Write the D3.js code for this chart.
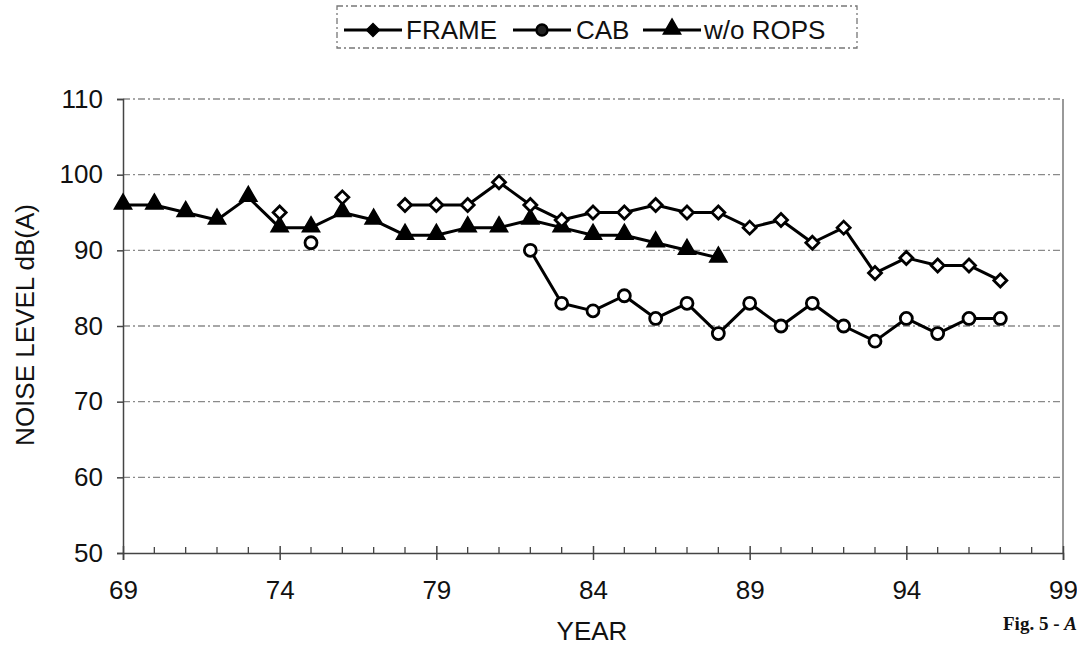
<!DOCTYPE html>
<html>
<head>
<meta charset="utf-8">
<script src="https://cdn.jsdelivr.net/npm/d3@7"></script>
<style>
  html, body { margin: 0; padding: 0; background: #fff; overflow: hidden; }
  svg { display: block; }
  text { font-family: "Liberation Sans", Arial, Helvetica, sans-serif; fill: #111; }
</style>
</head>
<body>
<svg id="chart" width="1077" height="658"></svg>
<script>
// ---- data ----
const years    = [69,70,71,72,73,74,75,76,77,78,79,80,81,82,83,84,85,86,87,88,89,90,91,92,93,94,95,96,97];
const frame    = [null,null,null,null,null,95,null,97,null,96,96,96,99,96,94,95,95,96,95,95,93,94,91,93,87,89,88,88,86];
const cab      = [null,null,null,null,null,null,91,null,null,null,null,null,null,90,83,82,84,81,83,79,83,80,83,80,78,81,79,81,81];
const woRops   = [96,96,95,94,97,93,93,95,94,92,92,93,93,94,93,92,92,91,90,89,null,null,null,null,null,null,null,null,null];
const xTicks   = [69,74,79,84,89,94,99];
const yTicks   = [50,60,70,80,90,100,110];
const seriesNames = ["FRAME","CAB","w/o ROPS"];

// ---- layout ----
const svg = d3.select("#chart");
const L = 123, R = 1063, T = 99, B = 553;
const x = d3.scaleLinear().domain([69,99]).range([L,R]);
const y = d3.scaleLinear().domain([50,110]).range([B,T]);

// gridlines
const grid = svg.append("g");
grid.selectAll("line").data(yTicks.filter(v => v > 50)).join("line")
  .attr("x1", L).attr("x2", R)
  .attr("y1", d => y(d)).attr("y2", d => y(d))
  .attr("stroke", "#8a8a8a").attr("stroke-width", 1.4)
  .attr("stroke-dasharray", "7,3,2,3");
// right border
svg.append("line").attr("x1", R).attr("x2", R).attr("y1", T).attr("y2", B)
  .attr("stroke", "#777").attr("stroke-width", 1.5);

// x axis
const xAxis = svg.append("g").attr("transform", `translate(0,${B})`)
  .call(d3.axisBottom(x).tickValues(xTicks).tickSize(7).tickPadding(14).tickFormat(d3.format("d")));
xAxis.select(".domain").attr("stroke", "#444").attr("stroke-width", 1.5);
xAxis.selectAll(".tick line").attr("stroke", "#444").attr("stroke-width", 1.5).attr("y1", -7);
xAxis.selectAll(".tick text").attr("font-size", 26).attr("dy", "0.95em")
  .style("font-family", "'Liberation Sans', Arial, sans-serif").attr("fill", "#111");
// minor ticks (each year)
svg.append("g").selectAll("line").data(years.filter(v => !xTicks.includes(v)).concat([98])).join("line")
  .attr("x1", d => x(d)).attr("x2", d => x(d))
  .attr("y1", B).attr("y2", B - 6)
  .attr("stroke", "#444").attr("stroke-width", 1.3);

// y axis
const yAxis = svg.append("g").attr("transform", `translate(${L},0)`)
  .call(d3.axisLeft(y).tickValues(yTicks).tickSize(6).tickPadding(14).tickFormat(d3.format("d")));
yAxis.select(".domain").attr("stroke", "#444").attr("stroke-width", 1.5);
yAxis.selectAll(".tick line").attr("stroke", "#444").attr("stroke-width", 1.5);
yAxis.selectAll(".tick text").attr("font-size", 26)
  .style("font-family", "'Liberation Sans', Arial, sans-serif").attr("fill", "#111");

// axis titles
svg.append("text").attr("x", 592).attr("y", 640).attr("text-anchor", "middle")
  .attr("font-size", 26).text("YEAR");
svg.append("text").attr("transform", "translate(34,325) rotate(-90)")
  .attr("text-anchor", "middle").attr("font-size", 26).text("NOISE LEVEL dB(A)");

// series
const line = d3.line().defined(d => d[1] !== null).x(d => x(d[0])).y(d => y(d[1]));
const pts = arr => years.map((yr, i) => [yr, arr[i]]);
const allSeries = [frame, cab, woRops];

allSeries.forEach(arr => {
  svg.append("path").datum(pts(arr)).attr("d", line)
    .attr("fill", "none").attr("stroke", "#000").attr("stroke-width", 3)
    .attr("stroke-linejoin", "round");
});

const diamondPath = "M0,-6.5L6.5,0L0,6.5L-6.5,0Z";
const tri = d3.symbol().type(d3.symbolTriangle).size(130);

svg.append("g").selectAll("path").data(pts(woRops).filter(d => d[1] !== null)).join("path")
  .attr("d", tri).attr("transform", d => `translate(${x(d[0])},${y(d[1]) - 1})`)
  .attr("fill", "#000").attr("stroke", "#000").attr("stroke-width", 1.5);
svg.append("g").selectAll("path").data(pts(frame).filter(d => d[1] !== null)).join("path")
  .attr("d", diamondPath).attr("transform", d => `translate(${x(d[0])},${y(d[1])})`)
  .attr("fill", "#fff").attr("stroke", "#000").attr("stroke-width", 2.8);
svg.append("g").selectAll("circle").data(pts(cab).filter(d => d[1] !== null)).join("circle")
  .attr("cx", d => x(d[0])).attr("cy", d => y(d[1])).attr("r", 6)
  .attr("fill", "#fff").attr("stroke", "#000").attr("stroke-width", 2.8);

// legend
const lg = svg.append("g");
lg.append("rect").attr("x", 337).attr("y", 6).attr("width", 520).attr("height", 42)
  .attr("fill", "none").attr("stroke", "#777").attr("stroke-width", 1.3)
  .attr("stroke-dasharray", "6,3,2,3");
const legendItems = [
  {name: seriesNames[0], x0: 344, tx: 406, kind: "diamond"},
  {name: seriesNames[1], x0: 513, tx: 576, kind: "circle"},
  {name: seriesNames[2], x0: 643, tx: 704, kind: "tri"}
];
legendItems.forEach(it => {
  const cy = 30;
  lg.append("line").attr("x1", it.x0).attr("x2", it.x0 + 58).attr("y1", cy).attr("y2", cy)
    .attr("stroke", "#000").attr("stroke-width", 3);
  const mx = it.x0 + 29;
  if (it.kind === "diamond") {
    lg.append("path").attr("d", diamondPath).attr("transform", `translate(${mx},${cy})`)
      .attr("fill", "#000").attr("stroke", "#000").attr("stroke-width", 1.5);
  } else if (it.kind === "circle") {
    lg.append("circle").attr("cx", mx).attr("cy", cy).attr("r", 5.5)
      .attr("fill", "#222").attr("stroke", "#000").attr("stroke-width", 2.4);
  } else {
    lg.append("path").attr("d", tri).attr("transform", `translate(${mx},${cy - 1})`)
      .attr("fill", "#000").attr("stroke", "#000").attr("stroke-width", 1.5);
  }
  lg.append("text").attr("x", it.tx).attr("y", cy + 9).attr("font-size", 26).text(it.name);
});

// figure caption fragment
svg.append("text").attr("x", 1003).attr("y", 630)
  .style("font-family", "'Liberation Serif', 'Times New Roman', serif")
  .attr("font-size", 19).attr("font-weight", "bold")
  .html('Fig. 5 - <tspan font-style="italic">A</tspan>');
</script>
</body>
</html>
